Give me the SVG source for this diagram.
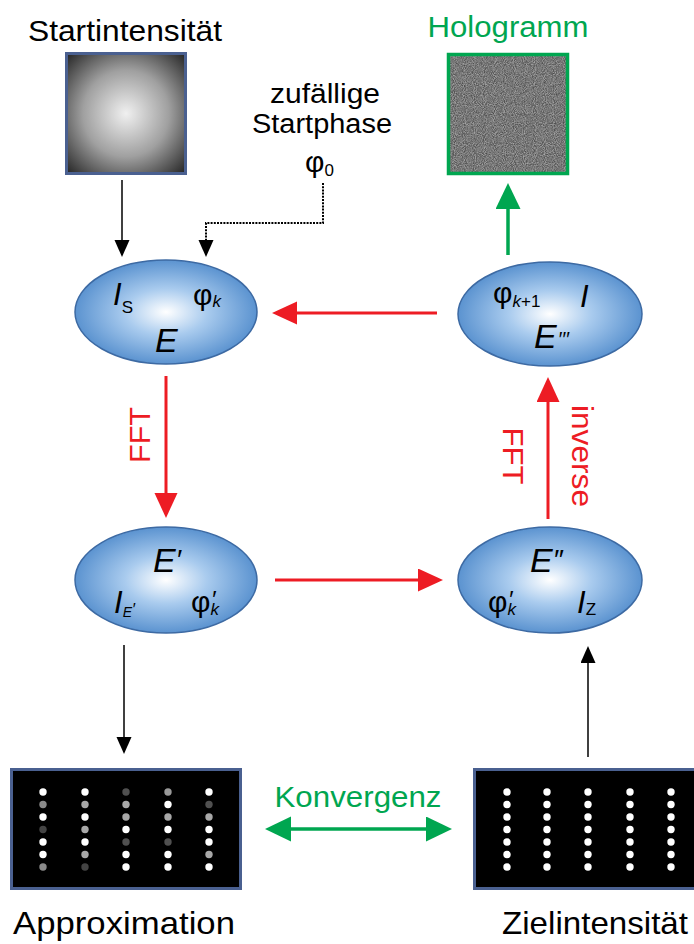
<svg xmlns="http://www.w3.org/2000/svg" width="694" height="944" viewBox="0 0 694 944">
<style>
.lbl{font-family:"Liberation Sans",Arial,sans-serif;fill:#000}
.grn{fill:#00a650}
.red{fill:#ed1c24}
.it{font-style:italic}
.ell{fill:url(#eg);stroke:#3d6aa3;stroke-width:1.5}
.rl{stroke:#ed1c24;stroke-width:3;fill:none}
.bl{stroke:#000;stroke-width:1.5;fill:none}
.gl{stroke:#00a650;stroke-width:3.5;fill:none}
</style>
<defs>
<radialGradient id="eg" cx="0.5" cy="0.5" r="0.5">
<stop offset="0" stop-color="#ffffff"/>
<stop offset="0.45" stop-color="#a9cbee"/>
<stop offset="1" stop-color="#5b93d0"/>
</radialGradient>
<radialGradient id="sg" cx="0.5" cy="0.5" r="0.72">
<stop offset="0" stop-color="#f0f0f0"/>
<stop offset="0.5" stop-color="#a0a0a0"/>
<stop offset="1" stop-color="#1e1e1e"/>
</radialGradient>
<filter id="noise" x="0" y="0" width="1" height="1" color-interpolation-filters="sRGB">
<feTurbulence type="fractalNoise" baseFrequency="1.1" numOctaves="1" seed="3"/>
<feColorMatrix type="matrix" values="0.6 0 0 0 0.17  0.6 0 0 0 0.17  0.6 0 0 0 0.17  0 0 0 0 1"/>
</filter>
<marker id="ar" markerUnits="userSpaceOnUse" markerWidth="26" markerHeight="24" refX="21" refY="11.5" orient="auto"><path d="M0,0 L25,11.5 L0,23 Z" fill="#ed1c24"/></marker>
<marker id="ab" markerUnits="userSpaceOnUse" markerWidth="18" markerHeight="16" refX="15" refY="7.5" orient="auto"><path d="M0,0 L17,7.5 L0,15 Z" fill="#000"/></marker>
<marker id="ag" markerUnits="userSpaceOnUse" markerWidth="27" markerHeight="26" refX="22" refY="12.5" orient="auto-start-reverse"><path d="M0,0 L26,12.5 L0,25 Z" fill="#00a650"/></marker>
</defs>
<rect width="694" height="944" fill="#fff"/>

<g id="startintensitaet">
<text class="lbl" x="125" y="41" font-size="30" text-anchor="middle" textLength="194" lengthAdjust="spacingAndGlyphs">Startintensität</text>
<rect x="66.5" y="53.5" width="119" height="120" fill="url(#sg)" stroke="#4a6090" stroke-width="3"/>
</g>

<g id="hologramm">
<text class="lbl grn" x="508" y="37" font-size="30" text-anchor="middle" textLength="161" lengthAdjust="spacingAndGlyphs">Hologramm</text>
<rect x="448.5" y="54.5" width="119" height="119" fill="#808080" filter="url(#noise)"/>
<rect x="448.5" y="54.5" width="119" height="119" fill="none" stroke="#00a650" stroke-width="3.5"/>
</g>

<g id="startphase">
<text class="lbl" x="325" y="103" font-size="27" text-anchor="middle" textLength="110" lengthAdjust="spacingAndGlyphs">zufällige</text>
<text class="lbl" x="322" y="133" font-size="27" text-anchor="middle" textLength="140" lengthAdjust="spacingAndGlyphs">Startphase</text>
<text class="lbl" x="305" y="172" font-size="30">φ<tspan font-size="17" dy="4">0</tspan></text>
</g>

<g id="node-E">
<ellipse class="ell" cx="166" cy="312" rx="91" ry="52"/>
<text class="lbl it" x="113" y="305" font-size="31">I<tspan font-style="normal" font-size="17" dy="8">S</tspan></text>
<text class="lbl" x="193" y="305" font-size="30">φ<tspan font-style="italic" font-size="17" dy="2">k</tspan></text>
<text class="lbl it" x="155" y="352" font-size="34">E</text>
</g>

<g id="node-E3">
<ellipse class="ell" cx="550" cy="314" rx="92" ry="52"/>
<text class="lbl" x="493" y="303" font-size="30">φ<tspan font-size="17" dy="4"><tspan font-style="italic">k</tspan>+1</tspan></text>
<text class="lbl it" x="580" y="307" font-size="31">I</text>
<text class="lbl it" x="534" y="348" font-size="34">E<tspan font-size="20" dx="1" dy="-2">′′′</tspan></text>
</g>

<g id="node-E1">
<ellipse class="ell" cx="166" cy="580" rx="91" ry="53"/>
<text class="lbl it" x="153" y="572" font-size="34">E<tspan font-size="28" dy="-3">′</tspan></text>
<text class="lbl it" x="114" y="613" font-size="31">I<tspan font-size="14" dy="4">E</tspan><tspan font-size="16" dy="-2">′</tspan></text>
<text class="lbl" x="191" y="612" font-size="30">φ<tspan font-style="italic" font-size="17" dy="3">k</tspan><tspan font-style="italic" font-size="24" dx="-8" dy="-7">′</tspan></text>
</g>

<g id="node-E2">
<ellipse class="ell" cx="550" cy="580" rx="92" ry="53"/>
<text class="lbl it" x="530" y="572" font-size="34">E<tspan font-size="28" dy="-3">″</tspan></text>
<text class="lbl" x="488" y="612" font-size="30">φ<tspan font-style="italic" font-size="17" dy="3">k</tspan><tspan font-style="italic" font-size="24" dx="-8" dy="-7">′</tspan></text>
<text class="lbl it" x="577" y="613" font-size="31">I<tspan font-style="normal" font-size="17" dy="2">Z</tspan></text>
</g>

<g id="approximation">
<rect x="11.5" y="769.5" width="229" height="119" fill="#000" stroke="#4a6090" stroke-width="3"/>
<g>
<circle cx="43" cy="792" r="3.7" fill="#fff"/><circle cx="43" cy="804.5" r="3.7" fill="#8a8a8a"/><circle cx="43" cy="817" r="3.7" fill="#fff"/><circle cx="43" cy="829.5" r="3.7" fill="#444"/><circle cx="43" cy="842" r="3.7" fill="#fff"/><circle cx="43" cy="854.5" r="3.7" fill="#fff"/><circle cx="43" cy="867" r="3.7" fill="#8a8a8a"/>
<circle cx="85" cy="792" r="3.7" fill="#fff"/><circle cx="85" cy="804.5" r="3.7" fill="#a8a8a8"/><circle cx="85" cy="817" r="3.7" fill="#fff"/><circle cx="85" cy="829.5" r="3.7" fill="#a8a8a8"/><circle cx="85" cy="842" r="3.7" fill="#fff"/><circle cx="85" cy="854.5" r="3.7" fill="#a8a8a8"/><circle cx="85" cy="867" r="3.7" fill="#444"/>
<circle cx="126" cy="792" r="3.7" fill="#505050"/><circle cx="126" cy="804.5" r="3.7" fill="#a8a8a8"/><circle cx="126" cy="817" r="3.7" fill="#a8a8a8"/><circle cx="126" cy="829.5" r="3.7" fill="#fff"/><circle cx="126" cy="842" r="3.7" fill="#505050"/><circle cx="126" cy="854.5" r="3.7" fill="#fff"/><circle cx="126" cy="867" r="3.7" fill="#fff"/>
<circle cx="168" cy="792" r="3.7" fill="#999"/><circle cx="168" cy="804.5" r="3.7" fill="#fff"/><circle cx="168" cy="817" r="3.7" fill="#a8a8a8"/><circle cx="168" cy="829.5" r="3.7" fill="#fff"/><circle cx="168" cy="842" r="3.7" fill="#505050"/><circle cx="168" cy="854.5" r="3.7" fill="#fff"/><circle cx="168" cy="867" r="3.7" fill="#fff"/>
<circle cx="209" cy="792" r="3.7" fill="#fff"/><circle cx="209" cy="804.5" r="3.7" fill="#505050"/><circle cx="209" cy="817" r="3.7" fill="#a8a8a8"/><circle cx="209" cy="829.5" r="3.7" fill="#fff"/><circle cx="209" cy="842" r="3.7" fill="#fff"/><circle cx="209" cy="854.5" r="3.7" fill="#a8a8a8"/><circle cx="209" cy="867" r="3.7" fill="#fff"/>
</g>
<text class="lbl" x="124" y="934" font-size="32" text-anchor="middle" textLength="222" lengthAdjust="spacingAndGlyphs">Approximation</text>
</g>

<g id="zielintensitaet">
<rect x="474.5" y="769.5" width="232" height="119" fill="#000" stroke="#4a6090" stroke-width="3"/>
<g fill="#fff">
<circle cx="507" cy="792" r="3.7"/><circle cx="507" cy="804.5" r="3.7"/><circle cx="507" cy="817" r="3.7"/><circle cx="507" cy="829.5" r="3.7"/><circle cx="507" cy="842" r="3.7"/><circle cx="507" cy="854.5" r="3.7"/><circle cx="507" cy="867" r="3.7"/>
<circle cx="547" cy="792" r="3.7"/><circle cx="547" cy="804.5" r="3.7"/><circle cx="547" cy="817" r="3.7"/><circle cx="547" cy="829.5" r="3.7"/><circle cx="547" cy="842" r="3.7"/><circle cx="547" cy="854.5" r="3.7"/><circle cx="547" cy="867" r="3.7"/>
<circle cx="588" cy="792" r="3.7"/><circle cx="588" cy="804.5" r="3.7"/><circle cx="588" cy="817" r="3.7"/><circle cx="588" cy="829.5" r="3.7"/><circle cx="588" cy="842" r="3.7"/><circle cx="588" cy="854.5" r="3.7"/><circle cx="588" cy="867" r="3.7"/>
<circle cx="630" cy="792" r="3.7"/><circle cx="630" cy="804.5" r="3.7"/><circle cx="630" cy="817" r="3.7"/><circle cx="630" cy="829.5" r="3.7"/><circle cx="630" cy="842" r="3.7"/><circle cx="630" cy="854.5" r="3.7"/><circle cx="630" cy="867" r="3.7"/>
<circle cx="671" cy="792" r="3.7"/><circle cx="671" cy="804.5" r="3.7"/><circle cx="671" cy="817" r="3.7"/><circle cx="671" cy="829.5" r="3.7"/><circle cx="671" cy="842" r="3.7"/><circle cx="671" cy="854.5" r="3.7"/><circle cx="671" cy="867" r="3.7"/>
</g>
<text class="lbl" x="595" y="934" font-size="32" text-anchor="middle" textLength="186" lengthAdjust="spacingAndGlyphs">Zielintensität</text>
</g>

<g id="connectors">
<line class="bl" x1="122" y1="180" x2="122" y2="255" marker-end="url(#ab)"/>
<path d="M323,183 V223 H206 V255" fill="none" stroke="#000" stroke-width="2" stroke-dasharray="2 1.2" marker-end="url(#ab)"/>
<line class="rl" x1="437" y1="313" x2="276" y2="313" marker-end="url(#ar)"/>
<line class="rl" x1="166" y1="376" x2="166" y2="514" marker-end="url(#ar)"/>
<line class="rl" x1="275" y1="580" x2="439" y2="580" marker-end="url(#ar)"/>
<line class="rl" x1="548" y1="519" x2="548" y2="381" marker-end="url(#ar)"/>
<line class="gl" x1="508" y1="255" x2="508" y2="187" marker-end="url(#ag)"/>
<line class="bl" x1="124" y1="645" x2="124" y2="752" marker-end="url(#ab)"/>
<line class="bl" x1="588" y1="757" x2="588" y2="648" marker-end="url(#ab)"/>
<line class="gl" x1="269" y1="829" x2="448" y2="829" marker-start="url(#ag)" marker-end="url(#ag)"/>
<text class="lbl red" transform="translate(150,435) rotate(-90)" font-size="30" text-anchor="middle" textLength="56" lengthAdjust="spacingAndGlyphs">FFT</text>
<text class="lbl red" transform="translate(572,456) rotate(90)" font-size="30" text-anchor="middle" textLength="102" lengthAdjust="spacingAndGlyphs">inverse</text>
<text class="lbl red" transform="translate(503,456) rotate(90)" font-size="30" text-anchor="middle" textLength="57" lengthAdjust="spacingAndGlyphs">FFT</text>
<text class="lbl grn" x="358" y="807" font-size="29" text-anchor="middle" textLength="167" lengthAdjust="spacingAndGlyphs">Konvergenz</text>
</g>
</svg>
